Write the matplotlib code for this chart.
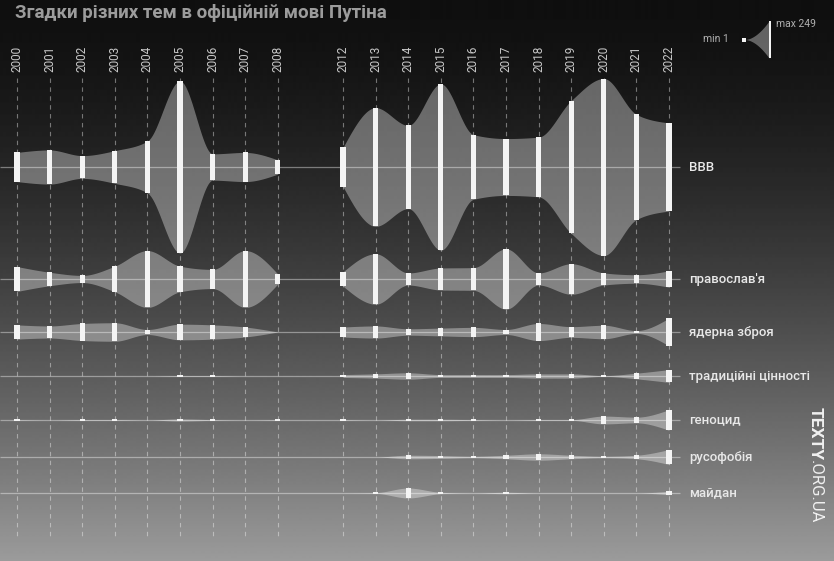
import numpy as np
import matplotlib.pyplot as plt

plt.rcParams['font.family'] = ['Roboto', 'DejaVu Sans']

# data: number of mentions per year
years = [2000, 2001, 2002, 2003, 2004, 2005, 2006, 2007, 2008,
         2012, 2013, 2014, 2015, 2016, 2017, 2018, 2019, 2020, 2021, 2022]
topics = ["ВВВ", "православ'я", "ядерна зброя", "традиційні цінності",
          "геноцид", "русофобія", "майдан"]

vvv = [41, 48, 32, 46, 73, 242, 37, 41, 20,
       55, 167, 117, 234, 91, 80, 84, 187, 249, 148, 124]
orthodoxy = [35, 19, 10, 36, 80, 36, 27, 80, 14,
             20, 71, 17, 31, 32, 85, 17, 43, 17, 12, 23]
nuclear = [20, 17, 24, 26, 7, 22, 20, 14, 0,
           14, 17, 9, 11, 13, 7, 24, 15, 19, 4, 39]
traditional = [0, 0, 0, 0, 0, 1, 1, 0, 0,
               4, 6, 9, 4, 4, 4, 6, 6, 1, 8, 18]
genocide = [1, 0, 1, 1, 0, 3, 1, 0, 1,
            1, 0, 2, 2, 1, 0, 1, 1, 11, 8, 29]
russophobia = [0, 0, 0, 0, 0, 0, 0, 0, 0,
               0, 0, 5, 4, 2, 5, 9, 5, 2, 5, 21]
maidan = [0, 0, 0, 0, 0, 0, 0, 0, 0,
          0, 1, 14, 2, 0, 2, 0, 0, 0, 0, 5]
counts = [vvv, orthodoxy, nuclear, traditional, genocide, russophobia, maidan]

legend_min, legend_max = 1, 249

# layout (pixels)
W, H = 834, 561
x0_px, step_px = 17, 32.6
row_y = [167, 279, 332, 376, 420, 457, 493]
px_per_mention = 177 / 249
min_bar = 2.5


def monotone(xs, ys, n=30):
    # d3 curveMonotoneX style cubic
    xs = np.asarray(xs, float)
    ys = np.asarray(ys, float)
    m = len(xs)
    if m < 3:
        return xs, ys
    h = np.diff(xs)
    s = np.diff(ys) / h
    t = np.zeros(m)
    sg = lambda v: -1.0 if v < 0 else 1.0
    for i in range(1, m - 1):
        p = (s[i - 1] * h[i] + s[i] * h[i - 1]) / (h[i - 1] + h[i])
        t[i] = (sg(s[i - 1]) + sg(s[i])) * min(abs(s[i - 1]), abs(s[i]), 0.5 * abs(p))
    t[0] = (3 * s[0] - t[1]) / 2
    t[-1] = (3 * s[-1] - t[-2]) / 2
    ox, oy = [], []
    u = np.linspace(0, 1, n)
    for i in range(m - 1):
        h00 = 2 * u**3 - 3 * u**2 + 1
        h10 = u**3 - 2 * u**2 + u
        h01 = -2 * u**3 + 3 * u**2
        h11 = u**3 - u**2
        ox.append(xs[i] + u * h[i])
        oy.append(h00 * ys[i] + h10 * h[i] * t[i] + h01 * ys[i + 1] + h11 * h[i] * t[i + 1])
    return np.concatenate(ox), np.clip(np.concatenate(oy), 0, None)


# slot positions: the 2009-2011 gap becomes one empty slot
slots = []
s = 0
for i, yr in enumerate(years):
    if i > 0 and yr - years[i - 1] > 1:
        s += 1
    slots.append(s)
    s += 1
slots = np.array(slots)
segments = np.split(np.arange(len(years)), np.where(np.diff(slots) > 1)[0] + 1)

fig = plt.figure(figsize=(W / 100, H / 100), dpi=100)

# background gradient
bg = fig.add_axes([0, 0, 1, 1])
bg.axis('off')
tt = np.linspace(0, 1, H)[:, None]
bg.imshow(15 + 140 * tt**1.5, cmap='gray', vmin=0, vmax=255,
          aspect='auto', extent=[0, 1, 0, 1])

ax = fig.add_axes([0, 0, 1, 1])
ax.set_facecolor('none')
ax.axis('off')
xmin = -x0_px / step_px
ax.set_xlim(xmin, (W - x0_px) / step_px)
ax.set_ylim(H, 0)

ax.vlines(slots, 78, 538, colors='white', alpha=0.4, linestyles=(0, (4, 4)), lw=0.8)
for sl, yr in zip(slots, years):
    ax.text(sl, 72, str(yr), rotation=90, ha='center', va='bottom',
            fontsize=8.5, color='#c8c8c8')

for r, (name, vals) in enumerate(zip(topics, counts)):
    yc = row_y[r]
    vals = np.array(vals, float)
    half = vals * px_per_mention / 2
    for seg in segments:
        cx, ch = monotone(slots[seg], half[seg])
        ax.fill_between(cx, yc - ch, yc + ch, color='white', alpha=0.35, lw=0, zorder=2)
    ax.hlines(yc, xmin, slots[-1] + 0.34, colors='white', alpha=0.4, lw=0.9, zorder=3)
    nz = vals > 0
    hb = np.maximum(vals * px_per_mention, min_bar)
    ax.bar(slots[nz], hb[nz], bottom=yc - hb[nz] / 2, width=0.16,
           color='#f4f4f4', lw=0, zorder=4)
    ax.text(slots[-1] + 0.62, yc, name, ha='left', va='center',
            fontsize=9.5, fontweight='medium', color='#e8e8e8')

# title
fig.text(15 / W, 1 - 13 / H, "Згадки різних тем в офіційній мові Путіна",
         ha='left', va='center', fontsize=13.5, fontweight='bold', color='#9c9c9c')

# legend
lax = fig.add_axes([738 / W, 1 - 60 / H, 34 / W, 41 / H])
lax.axis('off')
lax.set_xlim(0, 34)
lax.set_ylim(-138, 138)
u = np.linspace(0, 1, 60)
lh = legend_min / 2 + (legend_max - legend_min) / 2 * u**1.8
lax.fill_between(7 + 24 * u, -lh, lh, color='white', alpha=0.35, lw=0)
lax.bar(32, legend_max, bottom=-legend_max / 2, width=2, color='#f4f4f4', lw=0)
lax.scatter([5.5], [0], marker='s', s=6, color='#f4f4f4', lw=0)
fig.text(729 / W, 1 - 39 / H, f"min {legend_min}", ha='right', va='center',
         fontsize=7.5, color='#b0b0b0')
fig.text(776 / W, 1 - 24 / H, f"max {legend_max}", ha='left', va='center',
         fontsize=7.5, color='#b0b0b0')

# watermark
t1 = fig.text(815.5 / W, 1 - 407 / H, "TEXTY", rotation=270, ha='center', va='top',
              fontsize=12.5, fontweight='bold', color='#f0f0f0')
ax.annotate(".ORG.UA", xy=(0.5, 0), xycoords=t1, ha='center', va='top',
            rotation=270, fontsize=12, fontweight='normal', color='#f0f0f0')

fig.savefig('out.png', dpi=100)
